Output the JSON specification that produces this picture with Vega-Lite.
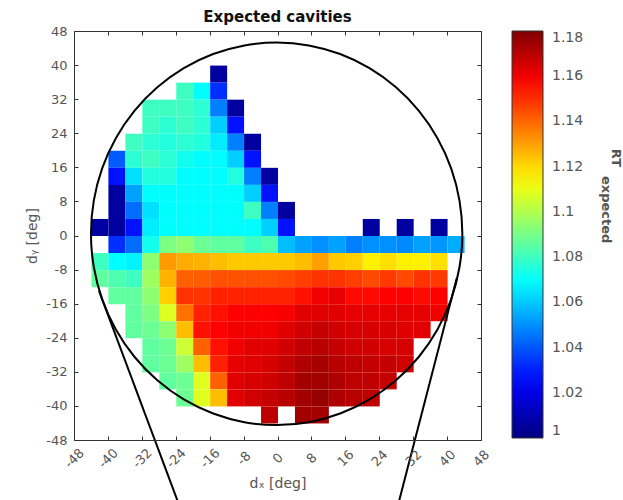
{
"$schema":"https://vega.github.io/schema/vega-lite/v6.json",
"autosize":{"type":"none"},
"padding":{"left":74,"top":31,"right":142,"bottom":60},
"width":407,"height":409,
"background":"white",
"config":{"view":{"stroke":null},"font":"DejaVu Sans"},
"title":{"text":"Expected cavities","fontSize":15,"fontWeight":"bold","color":"#111","offset":0,"anchor":"middle","font":"DejaVu Sans"},
"datasets":{
"cells":[
{"x":-14,"y":38,"v":1.006},
{"x":-22,"y":34,"v":1.080},{"x":-18,"y":34,"v":1.069},{"x":-14,"y":34,"v":1.033},
{"x":-30,"y":30,"v":1.080},{"x":-26,"y":30,"v":1.080},{"x":-22,"y":30,"v":1.080},{"x":-18,"y":30,"v":1.077},{"x":-14,"y":30,"v":1.047},{"x":-10,"y":30,"v":1.006},
{"x":-30,"y":26,"v":1.080},{"x":-26,"y":26,"v":1.077},{"x":-22,"y":26,"v":1.080},{"x":-18,"y":26,"v":1.077},{"x":-14,"y":26,"v":1.061},{"x":-10,"y":26,"v":1.028},
{"x":-34,"y":22,"v":1.080},{"x":-30,"y":22,"v":1.077},{"x":-26,"y":22,"v":1.075},{"x":-22,"y":22,"v":1.077},{"x":-18,"y":22,"v":1.075},{"x":-14,"y":22,"v":1.066},{"x":-10,"y":22,"v":1.047},{"x":-6,"y":22,"v":1.006},
{"x":-38,"y":18,"v":1.041},{"x":-34,"y":18,"v":1.077},{"x":-30,"y":18,"v":1.080},{"x":-26,"y":18,"v":1.077},{"x":-22,"y":18,"v":1.072},{"x":-18,"y":18,"v":1.069},{"x":-14,"y":18,"v":1.069},{"x":-10,"y":18,"v":1.061},{"x":-6,"y":18,"v":1.028},
{"x":-38,"y":14,"v":1.028},{"x":-34,"y":14,"v":1.064},{"x":-30,"y":14,"v":1.075},{"x":-26,"y":14,"v":1.075},{"x":-22,"y":14,"v":1.069},{"x":-18,"y":14,"v":1.069},{"x":-14,"y":14,"v":1.069},{"x":-10,"y":14,"v":1.075},{"x":-6,"y":14,"v":1.047},{"x":-2,"y":14,"v":1.006},
{"x":-38,"y":10,"v":1.006},{"x":-34,"y":10,"v":1.053},{"x":-30,"y":10,"v":1.069},{"x":-26,"y":10,"v":1.069},{"x":-22,"y":10,"v":1.069},{"x":-18,"y":10,"v":1.069},{"x":-14,"y":10,"v":1.069},{"x":-10,"y":10,"v":1.069},{"x":-6,"y":10,"v":1.061},{"x":-2,"y":10,"v":1.028},
{"x":-38,"y":6,"v":1.006},{"x":-34,"y":6,"v":1.044},{"x":-30,"y":6,"v":1.064},{"x":-26,"y":6,"v":1.069},{"x":-22,"y":6,"v":1.069},{"x":-18,"y":6,"v":1.069},{"x":-14,"y":6,"v":1.069},{"x":-10,"y":6,"v":1.069},{"x":-6,"y":6,"v":1.080},{"x":-2,"y":6,"v":1.047},{"x":2,"y":6,"v":1.006},
{"x":-42,"y":2,"v":1.006},{"x":-38,"y":2,"v":1.006},{"x":-34,"y":2,"v":1.028},{"x":-30,"y":2,"v":1.066},{"x":-26,"y":2,"v":1.069},{"x":-22,"y":2,"v":1.069},{"x":-18,"y":2,"v":1.069},{"x":-14,"y":2,"v":1.069},{"x":-10,"y":2,"v":1.069},{"x":-6,"y":2,"v":1.069},{"x":-2,"y":2,"v":1.061},{"x":2,"y":2,"v":1.028},{"x":22,"y":2,"v":1.006},{"x":30,"y":2,"v":1.006},{"x":38,"y":2,"v":1.006},
{"x":-38,"y":-2,"v":1.033},{"x":-34,"y":-2,"v":1.044},{"x":-30,"y":-2,"v":1.072},{"x":-26,"y":-2,"v":1.091},{"x":-22,"y":-2,"v":1.094},{"x":-18,"y":-2,"v":1.088},{"x":-14,"y":-2,"v":1.086},{"x":-10,"y":-2,"v":1.086},{"x":-6,"y":-2,"v":1.080},{"x":-2,"y":-2,"v":1.083},{"x":2,"y":-2,"v":1.058},{"x":6,"y":-2,"v":1.053},{"x":10,"y":-2,"v":1.050},{"x":14,"y":-2,"v":1.053},{"x":18,"y":-2,"v":1.047},{"x":22,"y":-2,"v":1.050},{"x":26,"y":-2,"v":1.050},{"x":30,"y":-2,"v":1.049},{"x":34,"y":-2,"v":1.053},{"x":38,"y":-2,"v":1.051},{"x":42,"y":-2,"v":1.055},
{"x":-42,"y":-6,"v":1.080},{"x":-38,"y":-6,"v":1.069},{"x":-34,"y":-6,"v":1.067},{"x":-30,"y":-6,"v":1.094},{"x":-26,"y":-6,"v":1.131},{"x":-22,"y":-6,"v":1.128},{"x":-18,"y":-6,"v":1.127},{"x":-14,"y":-6,"v":1.125},{"x":-10,"y":-6,"v":1.123},{"x":-6,"y":-6,"v":1.123},{"x":-2,"y":-6,"v":1.123},{"x":2,"y":-6,"v":1.123},{"x":6,"y":-6,"v":1.125},{"x":10,"y":-6,"v":1.130},{"x":14,"y":-6,"v":1.123},{"x":18,"y":-6,"v":1.122},{"x":22,"y":-6,"v":1.116},{"x":26,"y":-6,"v":1.119},{"x":30,"y":-6,"v":1.116},{"x":34,"y":-6,"v":1.116},{"x":38,"y":-6,"v":1.119},
{"x":-42,"y":-10,"v":1.086},{"x":-38,"y":-10,"v":1.083},{"x":-34,"y":-10,"v":1.080},{"x":-30,"y":-10,"v":1.097},{"x":-26,"y":-10,"v":1.127},{"x":-22,"y":-10,"v":1.141},{"x":-18,"y":-10,"v":1.142},{"x":-14,"y":-10,"v":1.144},{"x":-10,"y":-10,"v":1.144},{"x":-6,"y":-10,"v":1.144},{"x":-2,"y":-10,"v":1.144},{"x":2,"y":-10,"v":1.145},{"x":6,"y":-10,"v":1.147},{"x":10,"y":-10,"v":1.149},{"x":14,"y":-10,"v":1.149},{"x":18,"y":-10,"v":1.147},{"x":22,"y":-10,"v":1.145},{"x":26,"y":-10,"v":1.148},{"x":30,"y":-10,"v":1.145},{"x":34,"y":-10,"v":1.149},{"x":38,"y":-10,"v":1.148},
{"x":-38,"y":-14,"v":1.086},{"x":-34,"y":-14,"v":1.086},{"x":-30,"y":-14,"v":1.094},{"x":-26,"y":-14,"v":1.122},{"x":-22,"y":-14,"v":1.149},{"x":-18,"y":-14,"v":1.149},{"x":-14,"y":-14,"v":1.152},{"x":-10,"y":-14,"v":1.152},{"x":-6,"y":-14,"v":1.152},{"x":-2,"y":-14,"v":1.152},{"x":2,"y":-14,"v":1.152},{"x":6,"y":-14,"v":1.155},{"x":10,"y":-14,"v":1.160},{"x":14,"y":-14,"v":1.162},{"x":18,"y":-14,"v":1.156},{"x":22,"y":-14,"v":1.156},{"x":26,"y":-14,"v":1.158},{"x":30,"y":-14,"v":1.158},{"x":34,"y":-14,"v":1.156},{"x":38,"y":-14,"v":1.158},
{"x":-34,"y":-18,"v":1.086},{"x":-30,"y":-18,"v":1.091},{"x":-26,"y":-18,"v":1.108},{"x":-22,"y":-18,"v":1.138},{"x":-18,"y":-18,"v":1.152},{"x":-14,"y":-18,"v":1.155},{"x":-10,"y":-18,"v":1.158},{"x":-6,"y":-18,"v":1.158},{"x":-2,"y":-18,"v":1.158},{"x":2,"y":-18,"v":1.159},{"x":6,"y":-18,"v":1.163},{"x":10,"y":-18,"v":1.163},{"x":14,"y":-18,"v":1.163},{"x":18,"y":-18,"v":1.162},{"x":22,"y":-18,"v":1.162},{"x":26,"y":-18,"v":1.162},{"x":30,"y":-18,"v":1.162},{"x":34,"y":-18,"v":1.162},{"x":38,"y":-18,"v":1.160},
{"x":-34,"y":-22,"v":1.086},{"x":-30,"y":-22,"v":1.088},{"x":-26,"y":-22,"v":1.094},{"x":-22,"y":-22,"v":1.125},{"x":-18,"y":-22,"v":1.155},{"x":-14,"y":-22,"v":1.158},{"x":-10,"y":-22,"v":1.160},{"x":-6,"y":-22,"v":1.160},{"x":-2,"y":-22,"v":1.160},{"x":2,"y":-22,"v":1.163},{"x":6,"y":-22,"v":1.166},{"x":10,"y":-22,"v":1.168},{"x":14,"y":-22,"v":1.166},{"x":18,"y":-22,"v":1.165},{"x":22,"y":-22,"v":1.165},{"x":26,"y":-22,"v":1.165},{"x":30,"y":-22,"v":1.163},{"x":34,"y":-22,"v":1.163},
{"x":-30,"y":-26,"v":1.086},{"x":-26,"y":-26,"v":1.088},{"x":-22,"y":-26,"v":1.105},{"x":-18,"y":-26,"v":1.141},{"x":-14,"y":-26,"v":1.155},{"x":-10,"y":-26,"v":1.160},{"x":-6,"y":-26,"v":1.163},{"x":-2,"y":-26,"v":1.163},{"x":2,"y":-26,"v":1.166},{"x":6,"y":-26,"v":1.169},{"x":10,"y":-26,"v":1.170},{"x":14,"y":-26,"v":1.168},{"x":18,"y":-26,"v":1.166},{"x":22,"y":-26,"v":1.166},{"x":26,"y":-26,"v":1.165},{"x":30,"y":-26,"v":1.165},
{"x":-30,"y":-30,"v":1.086},{"x":-26,"y":-30,"v":1.088},{"x":-22,"y":-30,"v":1.097},{"x":-18,"y":-30,"v":1.125},{"x":-14,"y":-30,"v":1.152},{"x":-10,"y":-30,"v":1.162},{"x":-6,"y":-30,"v":1.163},{"x":-2,"y":-30,"v":1.165},{"x":2,"y":-30,"v":1.168},{"x":6,"y":-30,"v":1.172},{"x":10,"y":-30,"v":1.173},{"x":14,"y":-30,"v":1.170},{"x":18,"y":-30,"v":1.169},{"x":22,"y":-30,"v":1.168},{"x":26,"y":-30,"v":1.168},{"x":30,"y":-30,"v":1.166},
{"x":-26,"y":-34,"v":1.086},{"x":-22,"y":-34,"v":1.088},{"x":-18,"y":-34,"v":1.108},{"x":-14,"y":-34,"v":1.141},{"x":-10,"y":-34,"v":1.163},{"x":-6,"y":-34,"v":1.165},{"x":-2,"y":-34,"v":1.166},{"x":2,"y":-34,"v":1.169},{"x":6,"y":-34,"v":1.174},{"x":10,"y":-34,"v":1.174},{"x":14,"y":-34,"v":1.172},{"x":18,"y":-34,"v":1.169},{"x":22,"y":-34,"v":1.169},{"x":26,"y":-34,"v":1.168},
{"x":-22,"y":-38,"v":1.088},{"x":-18,"y":-38,"v":1.108},{"x":-14,"y":-38,"v":1.125},{"x":-10,"y":-38,"v":1.163},{"x":-6,"y":-38,"v":1.166},{"x":-2,"y":-38,"v":1.168},{"x":2,"y":-38,"v":1.170},{"x":6,"y":-38,"v":1.174},{"x":10,"y":-38,"v":1.176},{"x":14,"y":-38,"v":1.172},{"x":18,"y":-38,"v":1.170},{"x":22,"y":-38,"v":1.169},
{"x":-2,"y":-42,"v":1.169},{"x":6,"y":-42,"v":1.174},{"x":10,"y":-42,"v":1.174}
],
"circle":[
{"i":0,"x":43.6,"y":0.4},{"i":1,"x":42.93,"y":8.19},{"i":2,"x":40.96,"y":15.76},{"i":3,"x":37.73,"y":22.85},{"i":4,"x":33.35,"y":29.26},{"i":5,"x":27.95,"y":34.79},{"i":6,"x":21.7,"y":39.28},{"i":7,"x":14.78,"y":42.59},{"i":8,"x":7.4,"y":44.62},{"i":9,"x":-0.2,"y":45.3},{"i":10,"x":-7.8,"y":44.62},{"i":11,"x":-15.18,"y":42.59},{"i":12,"x":-22.1,"y":39.28},{"i":13,"x":-28.35,"y":34.79},{"i":14,"x":-33.75,"y":29.26},{"i":15,"x":-38.13,"y":22.85},{"i":16,"x":-41.36,"y":15.76},{"i":17,"x":-43.33,"y":8.19},{"i":18,"x":-44.0,"y":0.4},{"i":19,"x":-43.33,"y":-7.39},{"i":20,"x":-41.36,"y":-14.96},{"i":21,"x":-38.13,"y":-22.05},{"i":22,"x":-33.75,"y":-28.46},{"i":23,"x":-28.35,"y":-33.99},{"i":24,"x":-22.1,"y":-38.48},{"i":25,"x":-15.18,"y":-41.79},{"i":26,"x":-7.8,"y":-43.82},{"i":27,"x":-0.2,"y":-44.5},{"i":28,"x":7.4,"y":-43.82},{"i":29,"x":14.78,"y":-41.79},{"i":30,"x":21.7,"y":-38.48},{"i":31,"x":27.95,"y":-33.99},{"i":32,"x":33.35,"y":-28.46},{"i":33,"x":37.73,"y":-22.05},{"i":34,"x":40.96,"y":-14.96},{"i":35,"x":42.93,"y":-7.39}
],
"funnel":[
{"g":"left","i":0,"x":-42.1,"y":-13},{"g":"left","i":1,"x":-23.3,"y":-63},
{"g":"right","i":0,"x":42.3,"y":-10},{"g":"right","i":1,"x":28.5,"y":-63}
]
},
"layer":[
{"data":{"name":"cells"},
 "mark":{"type":"rect","binSpacing":0},
 "encoding":{
  "x":{"field":"x","type":"quantitative","bin":{"extent":[-48,48],"step":4},"scale":{"domain":[-48,48],"nice":false},
   "axis":{"orient":"bottom","values":[-48,-40,-32,-24,-16,-8,0,8,16,24,32,40,48],"labelExpr":"datum.value + ''","labelAngle":-45,"labelAlign":"center","labelBaseline":"middle","labelPadding":22,"tickSize":-4,"labelFontSize":13,"labelColor":"#555","labelFont":"DejaVu Sans","labelFlush":false,"labelOverlap":false,"title":"dₓ [deg]","titleFontSize":14,"titleFontWeight":"normal","titleColor":"#555","titleFont":"DejaVu Sans","titlePadding":6,"grid":false,"domainColor":"#333","tickColor":"#333"}},
  "y":{"field":"y","type":"quantitative","bin":{"extent":[-48,48],"step":4},"scale":{"domain":[-48,48],"nice":false},
   "axis":{"orient":"left","values":[-48,-40,-32,-24,-16,-8,0,8,16,24,32,40,48],"labelExpr":"datum.value + ''","labelPadding":11,"tickSize":-4,"labelFontSize":13,"labelColor":"#555","labelFont":"DejaVu Sans","labelFlush":false,"labelOverlap":false,"title":"dᵧ [deg]","titleFontSize":14,"titleFontWeight":"normal","titleColor":"#555","titleFont":"DejaVu Sans","titlePadding":6,"grid":false,"domainColor":"#333","tickColor":"#333"}},
  "color":{"field":"v","type":"quantitative",
   "scale":{"domain":[1,1.0028,1.025,1.0693,1.1136,1.1578,1.18],"range":["#000080","#000090","#0000ff","#00ffff","#ffff00","#ff0000","#800000"],"interpolate":"rgb","clamp":true},
   "legend":{"orient":"right","offset":30,"direction":"vertical","gradientLength":407,"gradientThickness":31,"gradientStrokeColor":"#333","gradientStrokeWidth":1,"values":[1,1.02,1.04,1.06,1.08,1.1,1.12,1.14,1.16,1.18],"format":"~g","labelFontSize":14,"labelColor":"#555","labelFont":"DejaVu Sans","labelOffset":9,"labelOverlap":false,
    "title":["\u2800\u00a0\u00a0\u00a0\u00a0\u00a0\u00a0\u00a0\u00a0\u00a0\u00a0\u00a0\u00a0\u00a0\u00a0\u00a0\u00a0\u00a0\u00a0\u00a0\u00a0\u00a0\u00a0\u00a0\u00a0\u00a0\u00a0RT","\u2800\u00a0\u00a0\u00a0\u00a0\u00a0\u00a0\u00a0\u00a0\u00a0\u00a0\u00a0\u00a0\u00a0\u00a0\u00a0\u00a0\u00a0\u00a0\u00a0\u00a0\u00a0\u00a0\u00a0\u00a0\u00a0\u00a0\u00a0\u00a0\u00a0\u00a0\u00a0\u00a0expected"],"titleOrient":"right","titleAngle":90,"titleAnchor":"end","titleAlign":"left","titleBaseline":"top","titleLineHeight":10,"titleLimit":400,"titleFontSize":13,"titleFontWeight":"bold","titleColor":"#555","titleFont":"DejaVu Sans","titlePadding":39}}
 }},
{"data":{"name":"circle"},
 "mark":{"type":"line","interpolate":"cardinal-closed","color":"black","strokeWidth":2,"clip":false},
 "encoding":{
  "x":{"field":"x","type":"quantitative","scale":{"domain":[-48,48],"nice":false},
   "axis":{"orient":"top","values":[-48,-40,-32,-24,-16,-8,0,8,16,24,32,40,48],"labels":false,"tickSize":-4,"title":null,"grid":false,"domainColor":"#333","tickColor":"#333"}},
  "y":{"field":"y","type":"quantitative","scale":{"domain":[-48,48],"nice":false},
   "axis":{"orient":"right","values":[-48,-40,-32,-24,-16,-8,0,8,16,24,32,40,48],"labels":false,"tickSize":-4,"title":null,"grid":false,"domainColor":"#333","tickColor":"#333"}},
  "order":{"field":"i","type":"quantitative"}
 }},
{"data":{"name":"funnel"},
 "mark":{"type":"line","color":"black","strokeWidth":2,"clip":false},
 "encoding":{
  "x":{"field":"x","type":"quantitative","scale":{"domain":[-48,48],"nice":false},"axis":null},
  "y":{"field":"y","type":"quantitative","scale":{"domain":[-48,48],"nice":false},"axis":null},
  "detail":{"field":"g","type":"nominal"},
  "order":{"field":"i","type":"quantitative"}
 }}
],
"resolve":{"axis":{"x":"independent","y":"independent"}}
}
